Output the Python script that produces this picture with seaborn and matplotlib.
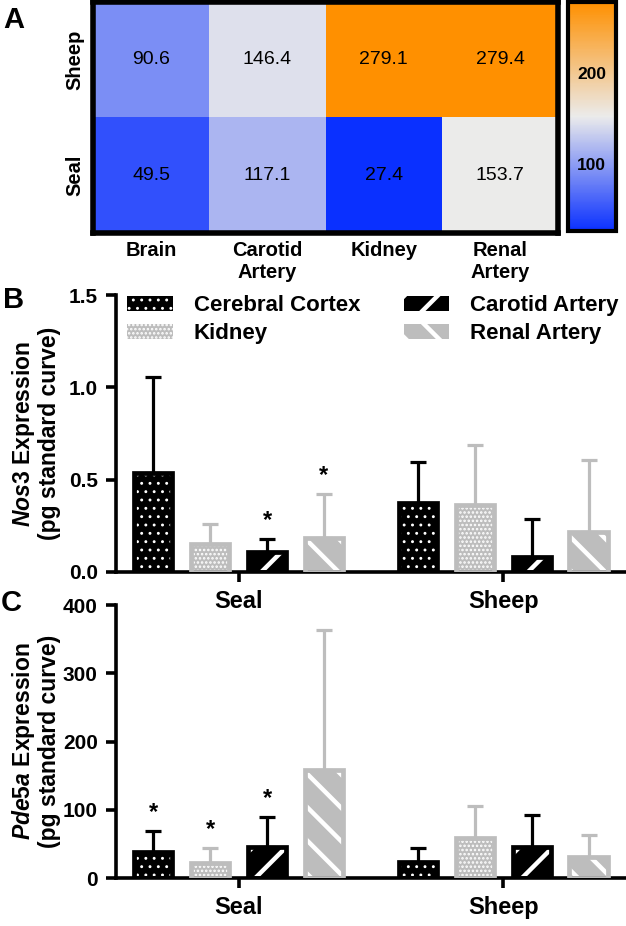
import numpy as np
import pandas as pd
import matplotlib
matplotlib.use("Agg")
import matplotlib.pyplot as plt
import matplotlib.transforms as mtransforms
from matplotlib.colors import LinearSegmentedColormap
from matplotlib.patches import Rectangle, Patch
import seaborn as sns

# ---------------- data ----------------
heat_rows = ["Sheep", "Seal"]
heat_cols = ["Brain", "Carotid\nArtery", "Kidney", "Renal\nArtery"]
heat_sheep = [90.6, 146.4, 279.1, 279.4]
heat_seal = [49.5, 117.1, 27.4, 153.7]
cbar_ticks = [100, 200]

species = ["Seal", "Sheep"]
tissues = ["Cerebral Cortex", "Kidney", "Carotid Artery", "Renal Artery"]

nos3_seal_mean = [0.537, 0.150, 0.106, 0.185]
nos3_seal_err = [0.519, 0.108, 0.072, 0.235]
nos3_sheep_mean = [0.375, 0.362, 0.083, 0.218]
nos3_sheep_err = [0.218, 0.325, 0.203, 0.387]
nos3_seal_star = [0, 0, 1, 1]
nos3_sheep_star = [0, 0, 0, 0]
nos3_yticks = [0.0, 0.5, 1.0, 1.5]

pde_seal_mean = [38.5, 22.4, 45.8, 159.0]
pde_seal_err = [30.5, 21.1, 43.2, 205.0]
pde_sheep_mean = [23.0, 59.0, 45.8, 31.0]
pde_sheep_err = [20.5, 46.0, 46.2, 31.5]
pde_seal_star = [1, 1, 1, 0]
pde_sheep_star = [0, 0, 0, 0]
pde_yticks = [0, 100, 200, 300, 400]

# ---------------- style ----------------
sns.set_style("ticks")
plt.rcParams["font.family"] = ["Liberation Sans", "DejaVu Sans"]
plt.rcParams["font.weight"] = "bold"
plt.rcParams["axes.labelweight"] = "bold"
for k in ("text.color", "axes.labelcolor", "xtick.color", "ytick.color", "axes.edgecolor"):
    plt.rcParams[k] = "black"
plt.rcParams["mathtext.fontset"] = "custom"
plt.rcParams["mathtext.it"] = "Liberation Sans:italic:bold"
plt.rcParams["mathtext.rm"] = "Liberation Sans:bold"
plt.rcParams["mathtext.bf"] = "Liberation Sans:bold"
plt.rcParams["hatch.linewidth"] = 1.5

GRAY = "#bdbdbd"
tissue_colors = {"Cerebral Cortex": "black", "Kidney": GRAY,
                 "Carotid Artery": "black", "Renal Artery": GRAY}
tissue_hatch = {"Cerebral Cortex": "..", "Kidney": "....",
                "Carotid Artery": "/", "Renal Artery": "\\"}
tissue_hlw = {"Cerebral Cortex": 0.9, "Kidney": 1.2,
              "Carotid Artery": 3.2, "Renal Artery": 3.2}


def set_hatch_lw(artist, lw):
    if hasattr(artist, "set_hatch_linewidth"):
        artist.set_hatch_linewidth(lw)
    orig = artist.draw

    def draw(renderer, _orig=orig, _lw=lw):
        with plt.rc_context({"hatch.linewidth": _lw}):
            return _orig(renderer)
    artist.draw = draw


fig = plt.figure(figsize=(6.26, 9.26), dpi=100)

# ---------------- panel A: heatmap ----------------
axA = fig.add_axes([0.1486, 0.7484, 0.743, 0.2495])
cax = fig.add_axes([0.907, 0.7505, 0.0767, 0.2473])
hdf = pd.DataFrame([heat_sheep, heat_seal], index=heat_rows, columns=heat_cols)
cmap = LinearSegmentedColormap.from_list("bo", ["#0a30ff", "#ebebeb", "#ff9000"])
sns.heatmap(hdf, ax=axA, cmap=cmap, annot=True, fmt=".1f",
            annot_kws=dict(color="black", fontsize=14, fontweight="normal"),
            cbar_ax=cax, cbar_kws=dict(ticks=cbar_ticks))
for sp in axA.spines.values():
    sp.set_visible(True)
    sp.set_linewidth(4)
    sp.set_color("black")
axA.tick_params(length=0, pad=6)
axA.set_xticklabels(heat_cols, fontsize=14.5, fontweight="bold", rotation=0)
axA.set_yticklabels(heat_rows, fontsize=14.5, fontweight="bold", rotation=90, va="center")
axA.set_xlabel("")
axA.set_ylabel("")
cbar = axA.collections[0].colorbar
cbar.outline.set_linewidth(3)
cbar.outline.set_edgecolor("black")
cax.tick_params(left=True, right=True, labelleft=False, labelright=False,
                direction="in", length=4, width=2, color="black")
btr = mtransforms.blended_transform_factory(cax.transAxes, cax.transData)
for v in cbar_ticks:
    cax.text(0.5, v, str(v), transform=btr, ha="center", va="center",
             fontsize=12.5, fontweight="bold")


# ---------------- bar panels ----------------
def bar_panel(ax, means, errs, stars, yticks, ylabel, fmt):
    rows = []
    for si, sp in enumerate(species):
        for ti, t in enumerate(tissues):
            rows.append(dict(species=sp, tissue=t, value=means[si][ti]))
    df = pd.DataFrame(rows)
    sns.barplot(data=df, x="species", y="value", hue="tissue", order=species,
                hue_order=tissues, palette=tissue_colors, width=0.86, gap=0.33,
                errorbar=None, saturation=1, legend=False, ax=ax)
    for ti, (cont, t) in enumerate(zip(ax.containers, tissues)):
        c = tissue_colors[t]
        for si, p in enumerate(cont):
            p.set_facecolor(c)
            p.set_edgecolor("white")
            p.set_linewidth(0)
            p.set_hatch(tissue_hatch[t])
            set_hatch_lw(p, tissue_hlw[t])
            ax.add_patch(Rectangle((p.get_x(), p.get_y()), p.get_width(), p.get_height(),
                                   fill=False, edgecolor=c, lw=3.4, zorder=3))
            xc = p.get_x() + p.get_width() / 2
            ax.errorbar([xc], [means[si][ti]], yerr=[[0], [errs[si][ti]]], fmt="none",
                        ecolor=c, elinewidth=2.3, capsize=6, capthick=2.3, zorder=1.5)
            if stars[si][ti]:
                ax.annotate("*", xy=(xc, means[si][ti] + errs[si][ti]), xytext=(0, 5),
                            textcoords="offset points", ha="center", va="bottom",
                            fontsize=17, fontweight="bold")
    sns.despine(ax=ax)
    for s in ("left", "bottom"):
        ax.spines[s].set_linewidth(2.6)
    ax.set_xlim(-0.464, 1.464)
    ax.set_ylim(yticks[0], yticks[-1])
    ax.set_yticks(yticks)
    ax.set_yticklabels([format(v, fmt) for v in yticks], fontsize=15, fontweight="bold")
    ax.set_xticks(range(len(species)))
    ax.set_xticklabels(species, fontsize=17, fontweight="bold")
    ax.tick_params(axis="both", width=2.6, length=7, pad=6)
    ax.set_xlabel("")
    ax.set_ylabel(ylabel, fontsize=16.5, fontweight="bold", linespacing=1.05)
    ax.yaxis.set_label_coords(-0.108, 0.5)
    ax.patch.set_facecolor("none")


axB = fig.add_axes([0.185, 0.3823, 0.815, 0.2991])
axB.set_zorder(2)
bar_panel(axB, [nos3_seal_mean, nos3_sheep_mean], [nos3_seal_err, nos3_sheep_err],
          [nos3_seal_star, nos3_sheep_star], nos3_yticks,
          "$\\mathit{Nos3}$ Expression\n(pg standard curve)", ".1f")

handles = [Patch(facecolor=tissue_colors[t], edgecolor="white", hatch=tissue_hatch[t],
                 lw=0, label=t) for t in tissues]
leg = axB.legend(handles=handles, ncol=2, loc="upper left", bbox_to_anchor=(0.022, 1.0),
                 frameon=False, fontsize=16, handlelength=2.05, handleheight=0.65,
                 handletextpad=0.95, columnspacing=1.95, labelspacing=0.32,
                 borderpad=0, borderaxespad=0)
for h, t in zip(leg.get_patches(), tissues):
    set_hatch_lw(h, tissue_hlw[t])

axC = fig.add_axes([0.185, 0.0518, 0.815, 0.2948])
axC.set_zorder(1)
bar_panel(axC, [pde_seal_mean, pde_sheep_mean], [pde_seal_err, pde_sheep_err],
          [pde_seal_star, pde_sheep_star], pde_yticks,
          "$\\mathit{Pde5a}$ Expression\n(pg standard curve)", "d")

# panel letters
fig.text(0.022, 0.978, "A", fontsize=21, fontweight="bold", ha="center", va="center")
fig.text(0.022, 0.676, "B", fontsize=21, fontweight="bold", ha="center", va="center")
fig.text(0.018, 0.349, "C", fontsize=21, fontweight="bold", ha="center", va="center")

fig.savefig("out.png", dpi=100)
